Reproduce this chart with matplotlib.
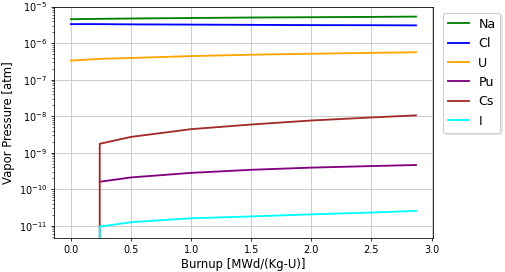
import matplotlib
matplotlib.use('Agg')
import matplotlib.pyplot as plt

# burnup points (MWd/kg-U)
burnup = [0.0, 0.24, 0.5, 1.0, 1.5, 2.0, 2.5, 2.87]
burnup_late = [0.24, 0.24, 0.5, 1.0, 1.5, 2.0, 2.5, 2.87]

na = [4.5e-6, 4.6e-6, 4.7e-6, 4.85e-6, 5.0e-6, 5.1e-6, 5.2e-6, 5.3e-6]
cl = [3.3e-6, 3.3e-6, 3.25e-6, 3.2e-6, 3.15e-6, 3.1e-6, 3.08e-6, 3.05e-6]
u = [3.3e-7, 3.7e-7, 3.9e-7, 4.4e-7, 4.8e-7, 5.1e-7, 5.4e-7, 5.6e-7]
pu = [1.6e-10, 2.1e-10, 2.8e-10, 3.4e-10, 3.9e-10, 4.3e-10, 4.6e-10]
cs = [1e-13, 1.75e-9, 2.7e-9, 4.4e-9, 5.9e-9, 7.6e-9, 9.2e-9, 1.05e-8]
iod = [1e-13, 9.5e-12, 1.25e-11, 1.6e-11, 1.8e-11, 2.05e-11, 2.3e-11, 2.55e-11]

dpi = 70
fig, ax = plt.subplots(figsize=(505 / dpi, 272 / dpi), dpi=dpi)
plt.subplots_adjust(left=0.107, right=0.857, top=0.976, bottom=0.126)

lw = 1.9
ax.plot(burnup, na, color='green', lw=lw, label='Na')
ax.plot(burnup, cl, color='blue', lw=lw, label='Cl')
ax.plot(burnup, u, color='orange', lw=lw, label='U')
ax.plot(burnup_late[1:], pu, color='purple', lw=lw, label='Pu')
ax.plot(burnup_late, cs, color='brown', lw=lw, label='Cs')
ax.plot(burnup_late, iod, color='cyan', lw=lw, label='I')

ax.set_yscale('log')
ax.set_ylim(4.7e-12, 1e-5)
ax.set_xlim(-0.14, 3.01)
ax.grid(True, which='major', color='#c0c0c0')
ax.set_xlabel('Burnup [MWd/(Kg-U)]', fontsize=12)
ax.set_ylabel('Vapor Pressure [atm]', fontsize=12)
ax.legend(loc='upper left', bbox_to_anchor=(1.01, 1.0), fontsize=13,
          handlelength=1.7, handletextpad=0.7,
          shadow={'color': '0.85', 'alpha': 0.6})

plt.savefig('out.png', dpi=dpi)
